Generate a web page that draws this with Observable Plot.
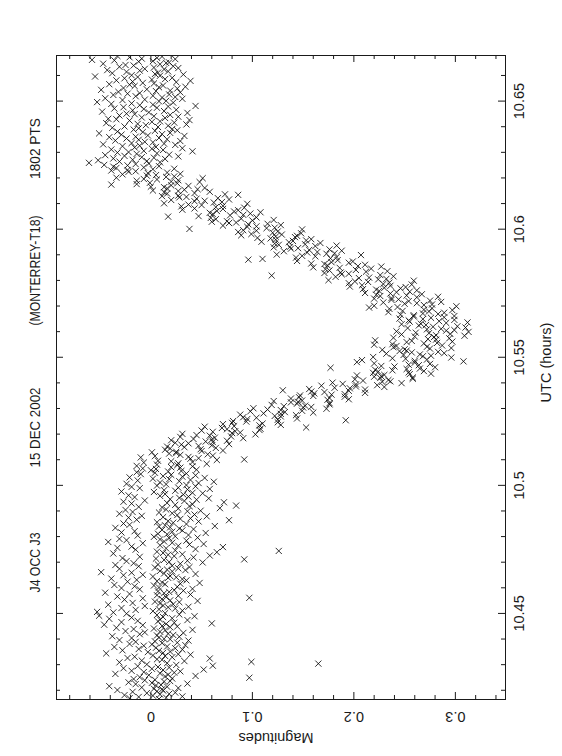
<!DOCTYPE html>
<html><head><meta charset="utf-8">
<script src="https://cdn.jsdelivr.net/npm/d3@7"></script>
<script src="https://cdn.jsdelivr.net/npm/@observablehq/plot@0.6"></script>
<style>
html,body{margin:0;padding:0;background:#fff;overflow:hidden;}
#chart{width:562px;height:756px;}
#chart svg{display:block;}
</style></head><body><div id="chart"></div>
<script>
const titleParts = ["J4 OCC J3", "15 DEC 2002", "(MONTERREY-T18)", "1802 PTS"];
const utcLabel = "UTC (hours)";
const magLabel = "Magnitudes";
const utcTicks = [10.45, 10.5, 10.55, 10.6, 10.65];
const utcTickLabels = ["10.45", "10.5", "10.55", "10.6", "10.65"];
const utcMinor = [10.42,10.43,10.44,10.46,10.47,10.48,10.49,10.51,10.52,10.53,10.54,10.56,10.57,10.58,10.59,10.61,10.62,10.63,10.64,10.66];
const magTicks = [0, 0.1, 0.2, 0.3];
const magTickLabels = ["0", "0.1", "0.2", "0.3"];
const magMinor = [-0.08,-0.06,-0.04,-0.02,0.02,0.04,0.06,0.08,0.12,0.14,0.16,0.18,0.22,0.24,0.26,0.28,0.32,0.34];

// [UTC hours, magnitude]
const preEvent = [
[10.4166,.008],[10.4169,-.021],
[10.4171,.015],[10.4174,-.012],[10.4176,.031],[10.4179,.002],[10.4181,-.026],[10.4184,.009],[10.4186,.018],[10.4189,-.004],
[10.4191,.024],[10.4194,-.018],[10.4196,.006],[10.4199,.012],[10.4201,-.033],[10.4204,.011],[10.4206,.003],[10.4209,.027],
[10.4211,-.009],[10.4214,.016],[10.4216,-.041],[10.4219,.005],[10.4221,.010],[10.4224,-.015],[10.4226,.036],[10.4229,.001],
[10.4231,-.022],[10.4234,.013],[10.4236,.019],[10.4239,-.006],[10.4241,.004],[10.4244,-.017],[10.4246,.021],[10.4249,.097],
[10.4251,-.011],[10.4254,.014],[10.4256,.044],[10.4259,-.002],[10.4261,.017],[10.4264,-.035],[10.4266,.009],[10.4269,.023],
[10.4271,-.007],[10.4274,.029],[10.4276,-.019],[10.4279,.012],[10.4281,.052],[10.4284,.001],[10.4286,-.027],[10.4289,.018],
[10.4291,.007],[10.4294,-.013],[10.4296,.061],[10.4299,.025],[10.4301,-.004],[10.4304,.165],[10.4306,.016],[10.4309,-.031],
[10.4311,.099],[10.4314,.033],[10.4316,-.009],[10.4319,.011],[10.4321,.006],[10.4324,.058],[10.4326,-.023],[10.4329,.021],
[10.4331,-.016],[10.4334,.014],[10.4336,.002],[10.4339,.039],[10.4341,.027],[10.4344,-.044],[10.4346,.012],[10.4349,-.003],
[10.4351,.019],[10.4354,.008],[10.4356,-.028],[10.4359,.031],[10.4361,-.012],[10.4364,.024],[10.4366,.005],[10.4369,-.036],
[10.4371,.016],[10.4374,-.007],[10.4376,.034],[10.4379,.001],[10.4381,-.021],[10.4384,.011],[10.4386,.026],[10.4389,-.015],
[10.4391,.004],[10.4394,.037],[10.4396,-.031],[10.4399,.019],[10.4401,.013],[10.4404,-.019],[10.4406,.008],[10.4409,.028],
[10.4411,-.038],[10.4414,.006],[10.4416,.022],[10.4419,-.011],[10.4421,.017],[10.4424,.032],[10.4426,-.006],[10.4429,.009],
[10.4431,-.025],[10.4434,.014],[10.4436,.041],[10.4439,-.017],[10.4441,.003],[10.4444,-.034],[10.4446,.019],[10.4449,.026],
[10.4451,.011],[10.4454,-.008],[10.4456,-.046],[10.4459,.015],[10.4461,.060],[10.4464,.023],[10.4466,-.029],[10.4469,.007],
[10.4471,-.013],[10.4474,.036],[10.4476,.009],[10.4479,-.041],[10.4481,.021],[10.4484,-.019],[10.4486,.012],[10.4489,.043],
[10.4491,-.051],[10.4494,.006],[10.4496,.028],[10.4499,-.024],[10.4501,.014],[10.4504,-.037],[10.4506,-.053],[10.4509,.002],
[10.4511,.031],[10.4514,-.015],[10.4516,.008],[10.4519,.024],[10.4521,-.029],[10.4524,.017],[10.4526,.037],[10.4529,-.006],
[10.4531,.012],[10.4534,-.042],[10.4536,.022],[10.4539,.009],[10.4541,-.018],[10.4544,.028],[10.4546,.004],[10.4549,.046],
[10.4551,.019],[10.4554,-.026],[10.4556,.011],[10.4559,-.008],[10.4561,.097],[10.4564,.015],[10.4566,-.033],[10.4569,.027],
[10.4571,.006],[10.4574,.039],[10.4576,-.021],[10.4579,.013],[10.4581,-.045],[10.4584,.018],[10.4586,.007],[10.4589,.032],
[10.4591,.023],[10.4594,-.011],[10.4596,.041],[10.4599,-.029],[10.4601,.008],[10.4604,.026],[10.4606,-.016],[10.4609,.003],
[10.4611,-.036],[10.4614,.014],[10.4616,.029],[10.4619,.048],[10.4621,.011],[10.4624,-.023],[10.4626,.006],[10.4629,.035],
[10.4631,-.014],[10.4634,.031],[10.4636,-.039],[10.4639,.017],[10.4641,.025],[10.4644,.002],[10.4646,.019],[10.4649,-.027],
[10.4651,-.008],[10.4654,.044],[10.4656,.013],[10.4659,-.019],[10.4661,-.049],[10.4664,.021],[10.4666,.009],[10.4669,.034],
[10.4671,.016],[10.4674,-.031],[10.4676,.027],[10.4679,.004],[10.4681,.038],[10.4684,-.012],[10.4686,.021],[10.4689,-.035],
[10.4691,.007],[10.4694,.029],[10.4696,-.017],[10.4699,.051],[10.4701,.018],[10.4704,-.024],[10.4706,.036],[10.4709,.013],
[10.4711,.092],[10.4714,.005],[10.4716,-.028],[10.4719,.042],[10.4721,-.011],[10.4724,.023],[10.4726,.058],[10.4729,.017],
[10.4731,.031],[10.4734,-.037],[10.4736,.012],[10.4739,.065],[10.4741,.006],[10.4744,.126],[10.4746,.024],[10.4749,-.015],
[10.4751,.044],[10.4754,.015],[10.4756,-.033],[10.4759,.071],[10.4761,-.019],[10.4764,.027],[10.4766,.009],[10.4769,.038],
[10.4771,.052],[10.4774,-.008],[10.4776,.021],[10.4779,-.042],[10.4781,.013],[10.4784,.035],[10.4786,-.024],[10.4789,.009],
[10.4791,-.031],[10.4794,.018],[10.4796,.046],[10.4799,.003],[10.4801,.024],[10.4804,-.013],[10.4806,.037],[10.4809,.016],
[10.4811,.007],[10.4814,.054],[10.4816,-.029],[10.4819,.021],[10.4821,-.016],[10.4824,.031],[10.4826,.011],[10.4829,.042],
[10.4831,.028],[10.4834,-.035],[10.4836,.019],[10.4839,.008],[10.4841,.063],[10.4844,.014],[10.4846,-.021],[10.4849,.035],
[10.4851,-.027],[10.4854,.022],[10.4856,.006],[10.4859,.047],[10.4861,.017],[10.4864,.077],[10.4866,-.014],[10.4869,.029],
[10.4871,.039],[10.4874,-.022],[10.4876,.012],[10.4879,.055],[10.4881,-.009],[10.4884,.026],[10.4886,.043],[10.4889,-.031],
[10.4891,.021],[10.4894,.008],[10.4896,-.018],[10.4899,.036],[10.4901,.049],[10.4904,-.025],[10.4906,.015],[10.4909,.027],
[10.4911,.068],[10.4914,.011],[10.4916,-.012],[10.4919,.038],[10.4921,.084],[10.4924,.024],[10.4926,.041],[10.4929,-.019],
[10.4931,.016],[10.4934,.072],[10.4936,-.027],[10.4939,.033],[10.4941,-.006],[10.4944,.045],[10.4946,.019],[10.4949,.057],
[10.4951,.028],[10.4954,-.016],[10.4956,.037],[10.4959,.009],[10.4961,-.022],[10.4964,.032],[10.4966,.014],[10.4969,.051],
[10.4971,.041],[10.4974,.003],[10.4976,-.029],[10.4979,.024],[10.4981,.013],[10.4984,.036],[10.4986,.058],[10.4989,-.011],
[10.4991,.027],[10.4994,-.019],[10.4996,.044],[10.4999,.006],[10.5001,.035],[10.5004,.015],[10.5006,-.024],[10.5009,.047],
[10.5011,.009],[10.5014,.062],[10.5016,.028],[10.5019,-.013],[10.5021,.039],[10.5024,.018],[10.5026,.002],[10.5029,.053],
[10.5031,-.021],[10.5034,.031],[10.5036,.012],[10.5039,.044]
];
const ingress = [
[10.5041,.020],[10.5044,-.010],[10.5046,.035],[10.5049,.004],[10.5051,-.014],[10.5054,.017],[10.5056,.030],[10.5059,.000],
[10.5061,.045],[10.5064,.005],[10.5066,-.008],[10.5069,.029],[10.5071,.020],[10.5074,.041],[10.5076,-.014],[10.5079,.026],
[10.5081,.006],[10.5084,.055],[10.5086,.027],[10.5089,-.007],[10.5091,.041],[10.5094,.020],[10.5096,.007],[10.5099,.065],
[10.5101,.092],[10.5104,.039],[10.5106,.047],[10.5109,-.010],[10.5111,.037],[10.5114,.004],[10.5116,.061],[10.5119,.029],
[10.5121,.056],[10.5124,.018],[10.5126,.025],[10.5129,.001],[10.5131,.025],[10.5134,.050],[10.5136,.071],[10.5139,.014],
[10.5141,.049],[10.5144,.019],[10.5146,.064],[10.5149,.033],[10.5151,.016],[10.5154,.047],[10.5156,.060],[10.5159,.030],
[10.5161,.077],[10.5164,.037],[10.5166,.024],[10.5169,.061],[10.5171,.054],[10.5174,.075],[10.5176,.020],[10.5179,.060],
[10.5181,.042],[10.5184,.091],[10.5186,.063],[10.5189,.029],[10.5191,.079],[10.5194,.058],[10.5196,.045],[10.5199,.103],
[10.5201,.031],[10.5204,.080],[10.5206,.088],[10.5209,.061],[10.5211,.083],[10.5214,.050],[10.5216,.107],[10.5219,.075],
[10.5221,.108],[10.5224,.070],[10.5226,.153],[10.5229,.053],[10.5231,.082],[10.5234,.107],[10.5236,.128],[10.5239,.071],
[10.5241,.110],[10.5244,.080],[10.5246,.125],[10.5249,.094],[10.5251,.081],[10.5254,.192],[10.5256,.125],[10.5259,.095],
[10.5261,.144],[10.5264,.104],[10.5266,.091],[10.5269,.128],[10.5271,.122],[10.5274,.143],[10.5276,.088],[10.5279,.128],
[10.5281,.111],[10.5284,.160],[10.5286,.132],[10.5289,.098],[10.5291,.149],[10.5294,.128],[10.5296,.115],[10.5299,.173],
[10.5301,.101],[10.5304,.150],[10.5306,.158],[10.5309,.131],[10.5311,.152],[10.5314,.119],[10.5316,.176],[10.5319,.144],
[10.5321,.176],[10.5324,.138],[10.5326,.145],[10.5329,.121],[10.5331,.149],[10.5334,.174],[10.5336,.195],[10.5339,.138],
[10.5341,.176],[10.5344,.146],[10.5346,.191],[10.5349,.160],[10.5351,.147],[10.5354,.178],[10.5356,.191],[10.5359,.161],
[10.5361,.211],[10.5364,.171],[10.5366,.158],[10.5369,.195],[10.5371,.130],[10.5374,.211],[10.5376,.156],[10.5379,.196],
[10.5381,.181],[10.5384,.230],[10.5386,.202],[10.5389,.168],[10.5391,.223],[10.5394,.202],[10.5396,.189],[10.5399,.247],
[10.5401,.179],[10.5404,.228],[10.5406,.236],[10.5409,.209],[10.5411,.234],[10.5414,.201],[10.5416,.258],[10.5419,.226],
[10.5421,.258],[10.5424,.220],[10.5426,.227],[10.5429,.203],[10.5431,.230],[10.5434,.255],[10.5436,.276],[10.5439,.219],
[10.5441,.254],[10.5444,.224],[10.5446,.269],[10.5449,.238],[10.5451,.221],[10.5454,.252],[10.5456,.265],[10.5459,.177],
[10.5461,.280],[10.5464,.240],[10.5466,.227],[10.5469,.264],[10.5471,.254],[10.5474,.275],[10.5476,.220],[10.5479,.260],
[10.5481,.203],[10.5484,.308],[10.5486,.260],[10.5489,.208],[10.5491,.272],[10.5494,.251],[10.5496,.238],[10.5499,.296],
[10.5501,.219],[10.5504,.268],[10.5506,.276],[10.5509,.249],[10.5511,.265],[10.5514,.232],[10.5516,.289],[10.5519,.257],
[10.5521,.283],[10.5524,.245],[10.5526,.252],[10.5529,.228],[10.5531,.250],[10.5534,.275],[10.5536,.296],[10.5539,.239],
[10.5541,.272],[10.5544,.242],[10.5546,.287],[10.5549,.220],[10.5551,.238],[10.5554,.269],[10.5556,.282],[10.5559,.252],
[10.5561,.297],[10.5564,.257],[10.5566,.221],[10.5569,.281],[10.5571,.273],[10.5574,.294],[10.5576,.239],[10.5579,.279],
[10.5581,.260],[10.5584,.309],[10.5586,.281],[10.5589,.247],[10.5591,.295],[10.5594,.274],[10.5596,.261],[10.5599,.313]
];
const egress = [
[10.5601,.242],[10.5604,.291],[10.5606,.299],[10.5609,.272],[10.5611,.286],[10.5614,.253],[10.5616,.310],[10.5619,.278],
[10.5621,.302],[10.5624,.264],[10.5626,.271],[10.5629,.247],[10.5631,.266],[10.5634,.291],[10.5636,.312],[10.5639,.255],
[10.5641,.284],[10.5644,.254],[10.5646,.299],[10.5649,.268],[10.5651,.245],[10.5654,.276],[10.5656,.289],[10.5659,.259],
[10.5661,.299],[10.5664,.259],[10.5666,.246],[10.5669,.283],[10.5671,.268],[10.5674,.289],[10.5676,.234],[10.5679,.274],
[10.5681,.248],[10.5684,.297],[10.5686,.269],[10.5689,.235],[10.5691,.277],[10.5694,.215],[10.5696,.243],[10.5699,.301],
[10.5701,.220],[10.5704,.269],[10.5706,.277],[10.5709,.250],[10.5711,.262],[10.5714,.229],[10.5716,.286],[10.5719,.254],
[10.5721,.275],[10.5724,.237],[10.5726,.244],[10.5729,.220],[10.5731,.237],[10.5734,.262],[10.5736,.283],[10.5739,.226],
[10.5741,.252],[10.5744,.222],[10.5746,.267],[10.5749,.236],[10.5751,.211],[10.5754,.242],[10.5756,.255],[10.5759,.225],
[10.5761,.262],[10.5764,.222],[10.5766,.209],[10.5769,.246],[10.5771,.230],[10.5774,.251],[10.5776,.196],[10.5779,.236],
[10.5781,.208],[10.5784,.257],[10.5786,.229],[10.5789,.195],[10.5791,.235],[10.5794,.214],[10.5796,.201],[10.5799,.259],
[10.5801,.175],[10.5804,.224],[10.5806,.232],[10.5809,.205],[10.5811,.215],[10.5814,.182],[10.5816,.239],[10.5819,.119],
[10.5821,.226],[10.5824,.188],[10.5826,.195],[10.5829,.171],[10.5831,.187],[10.5834,.212],[10.5836,.233],[10.5839,.176],
[10.5841,.202],[10.5844,.172],[10.5846,.217],[10.5849,.186],[10.5851,.160],[10.5854,.227],[10.5856,.204],[10.5859,.174],
[10.5861,.211],[10.5864,.171],[10.5866,.158],[10.5869,.195],[10.5871,.178],[10.5874,.199],[10.5876,.144],[10.5879,.184],
[10.5881,.096],[10.5884,.110],[10.5886,.177],[10.5889,.143],[10.5891,.183],[10.5894,.162],[10.5896,.149],[10.5899,.207],
[10.5901,.124],[10.5904,.173],[10.5906,.181],[10.5909,.154],[10.5911,.164],[10.5914,.131],[10.5916,.188],[10.5919,.156],
[10.5921,.176],[10.5924,.138],[10.5926,.145],[10.5929,.121],[10.5931,.137],[10.5934,.162],[10.5936,.183],[10.5939,.126],
[10.5941,.152],[10.5944,.122],[10.5946,.167],[10.5949,.136],[10.5951,.109],[10.5954,.140],[10.5956,.153],[10.5959,.123],
[10.5961,.158],[10.5964,.118],[10.5966,.105],[10.5969,.142],[10.5971,.123],[10.5974,.144],[10.5976,.089],[10.5979,.129],
[10.5981,.099],[10.5984,.148],[10.5986,.120],[10.5989,.086],[10.5991,.125],[10.5994,.104],[10.5996,.091],[10.5999,.149],
[10.6001,.038],[10.6004,.114],[10.6006,.122],[10.6009,.095],[10.6011,.104],[10.6014,.071],[10.6016,.128],[10.6019,.096],
[10.6021,.115],[10.6024,.077],[10.6026,.084],[10.6029,.060],[10.6031,.075],[10.6034,.100],[10.6036,.121],[10.6039,.064],
[10.6041,.089],[10.6044,.059],[10.6046,.104],[10.6049,.017],[10.6051,.047],[10.6054,.078],[10.6056,.091],[10.6059,.061],
[10.6061,.098],[10.6064,.058],[10.6066,.108],[10.6069,.082],[10.6071,.065],[10.6074,.086],[10.6076,.031],[10.6079,.071],
[10.6081,.043],[10.6084,.092],[10.6086,.064],[10.6089,.030],[10.6091,.071],[10.6094,.050],[10.6096,.037],[10.6099,.095],
[10.6101,.013],[10.6104,.062],[10.6106,.070],[10.6109,.043],[10.6111,.053],[10.6114,.020],[10.6116,.077],[10.6119,.045],
[10.6121,.066],[10.6124,.028],[10.6126,.035],[10.6129,.011],[10.6131,.027],[10.6134,.086],[10.6136,.073],[10.6139,.016],
[10.6141,.043],[10.6144,.013],[10.6146,.058],[10.6149,.027],[10.6151,.002],[10.6154,.033],[10.6156,.046],[10.6159,.016],
[10.6161,.053],[10.6164,.013],[10.6166,.000],[10.6169,.037],[10.6171,.020],[10.6174,-.039],[10.6176,-.014],[10.6179,.026],
[10.6181,-.001],[10.6184,.048],[10.6186,.020],[10.6189,-.014],[10.6191,.027],[10.6194,.006],[10.6196,-.007],[10.6199,.051],
[10.6201,-.034],[10.6204,.015],[10.6206,.023],[10.6209,-.004],[10.6211,.005],[10.6214,-.028],[10.6216,.029],[10.6219,-.003],
[10.6221,.016],[10.6224,-.022],[10.6226,-.015],[10.6229,-.039],[10.6231,-.023],[10.6234,.002],[10.6236,.023],[10.6239,-.034],
[10.6241,-.007],[10.6244,-.037],[10.6246,.008],[10.6249,-.023],[10.6251,-.046],[10.6254,-.015],[10.6256,-.002],[10.6259,-.061]
];
const postEvent = [
[10.6261,.009],[10.6264,-.031],[10.6266,-.004],[10.6269,-.052],[10.6271,-.018],[10.6274,.014],[10.6276,-.037],[10.6279,.003],
[10.6281,-.009],[10.6284,.027],[10.6286,-.026],[10.6289,-.045],[10.6291,.018],[10.6294,-.014],[10.6296,.006],[10.6299,-.033],
[10.6301,-.022],[10.6304,.041],[10.6306,-.007],[10.6309,.012],[10.6311,-.039],[10.6314,.001],[10.6316,.031],[10.6319,-.016],
[10.6321,.005],[10.6324,-.028],[10.6326,-.011],[10.6329,.024],[10.6331,-.047],[10.6334,.013],[10.6336,-.019],[10.6339,.002],
[10.6341,-.006],[10.6344,.029],[10.6346,-.035],[10.6349,-.012],[10.6351,.016],[10.6354,-.024],[10.6356,.008],[10.6359,-.041],
[10.6361,-.015],[10.6364,.033],[10.6366,-.003],[10.6369,-.029],[10.6371,.011],[10.6374,-.051],[10.6376,.019],[10.6379,-.008],
[10.6381,-.033],[10.6384,.004],[10.6386,.026],[10.6389,-.017],[10.6391,.021],[10.6394,-.012],[10.6396,-.038],[10.6399,.007],
[10.6401,-.026],[10.6404,.017],[10.6406,-.005],[10.6409,.035],[10.6411,-.013],[10.6414,-.044],[10.6416,.023],[10.6419,.001],
[10.6421,.009],[10.6424,-.021],[10.6426,.038],[10.6429,-.034],[10.6431,-.042],[10.6434,.014],[10.6436,-.009],[10.6439,.027],
[10.6441,.003],[10.6444,-.031],[10.6446,.019],[10.6449,-.016],[10.6451,-.024],[10.6454,.036],[10.6456,-.002],[10.6459,-.048],
[10.6461,.013],[10.6464,-.018],[10.6466,.025],[10.6469,-.007],[10.6471,-.036],[10.6474,.006],[10.6476,-.027],[10.6479,.017],
[10.6481,.044],[10.6484,-.011],[10.6486,.002],[10.6489,-.039],[10.6491,-.019],[10.6494,.022],[10.6496,-.053],[10.6499,.008],
[10.6501,.015],[10.6504,-.028],[10.6506,-.006],[10.6509,.031],[10.6511,-.045],[10.6514,.011],[10.6516,.024],[10.6519,-.015],
[10.6521,.002],[10.6524,-.037],[10.6526,.018],[10.6529,-.023],[10.6531,-.011],[10.6534,.029],[10.6536,-.032],[10.6539,.005],
[10.6541,.019],[10.6544,-.049],[10.6546,-.004],[10.6549,.026],[10.6551,-.027],[10.6554,.008],[10.6556,.034],[10.6559,-.016],
[10.6561,.012],[10.6564,-.021],[10.6566,-.041],[10.6569,.003],[10.6571,-.008],[10.6574,.025],[10.6576,-.018],[10.6579,.039],
[10.6581,-.034],[10.6584,.001],[10.6586,.014],[10.6589,-.026],[10.6591,.021],[10.6594,-.013],[10.6596,-.055],[10.6599,.009],
[10.6601,-.019],[10.6604,.032],[10.6606,.004],[10.6609,-.038],[10.6611,.007],[10.6614,-.024],[10.6616,.017],[10.6619,-.011],
[10.6621,-.043],[10.6624,.013],[10.6626,-.006],[10.6629,.027],[10.6631,.003],[10.6634,-.031],[10.6636,.022],[10.6639,-.017],
[10.6641,-.025],[10.6644,.009],[10.6646,-.047],[10.6649,.015],[10.6651,.018],[10.6654,-.012],[10.6656,.002],[10.6659,-.036],
[10.6661,-.058],[10.6664,.024],[10.6666,-.009],[10.6669,.006],[10.6671,-.021],[10.6674,.011],[10.6676,-.033]
];

const observations = [...preEvent, ...ingress, ...egress, ...postEvent].map(([utc, mag]) => ({utc, mag}));

// layout
const W = 562, H = 756;
const M = {top: 55, right: 57, bottom: 57, left: 56};
const FW = W - M.left - M.right, FH = H - M.top - M.bottom;
const ink = "#1a1a1a";
const font = "'Liberation Sans', Arial, Helvetica, sans-serif";
const majorLen = 7, minorLen = 4;

function edgeTicks(xs, ys, len) {
  return [
    Plot.ruleX(xs, {x: d => d, insetTop: FH - len, stroke: ink}),
    Plot.ruleX(xs, {x: d => d, insetBottom: FH - len, stroke: ink}),
    Plot.ruleY(ys, {y: d => d, insetRight: FW - len, stroke: ink}),
    Plot.ruleY(ys, {y: d => d, insetLeft: FW - len, stroke: ink})
  ];
}

const centered = {textAnchor: "middle", lineAnchor: "middle", fill: ink};
const titleOffsets = [185, 50, -107, -229];
const titleWidths = [60, 80, 110, 61];

const chart = Plot.plot({
  width: W, height: H,
  marginTop: M.top, marginRight: M.right, marginBottom: M.bottom, marginLeft: M.left,
  x: {domain: [-0.093, 0.3494], axis: null},
  y: {domain: [10.4164, 10.6678], axis: null},
  style: {fontFamily: font, fontSize: "14.5px", color: ink, background: "#fff"},
  marks: [
    Plot.dot(observations, {x: "mag", y: "utc", symbol: "times", r: 2.9, stroke: "#000", strokeWidth: 0.9, strokeOpacity: 0.9, clip: true}),
    ...edgeTicks(magTicks, utcTicks, majorLen),
    ...edgeTicks(magMinor, utcMinor, minorLen),
    Plot.frame({stroke: ink, strokeWidth: 1}),
    Plot.text(magTicks, {...centered, x: d => d, text: (d, i) => magTickLabels[i], frameAnchor: "bottom", dy: 17.5, rotate: 180}),
    Plot.text(utcTicks, {...centered, y: d => d, text: (d, i) => utcTickLabels[i], frameAnchor: "right", dx: 13.5, rotate: -90}),
    Plot.text([utcLabel], {...centered, text: d => d, frameAnchor: "right", dx: 41, dy: -15, rotate: -90}),
    Plot.text([magLabel], {...centered, text: d => d, frameAnchor: "bottom", dy: 38, dx: -5, rotate: 180}),
    ...titleParts.map((t, i) => Plot.text([t], {...centered, text: d => d, frameAnchor: "left", dx: -21, dy: titleOffsets[i], rotate: -90}))
  ]
});
// condense the title words to the narrow plotting-package lettering
d3.select(chart).selectAll("text").each(function () {
  const k = titleParts.indexOf(this.textContent);
  if (k >= 0) d3.select(this).attr("textLength", titleWidths[k]).attr("lengthAdjust", "spacingAndGlyphs");
});
document.getElementById("chart").appendChild(chart);
</script>
</body></html>
